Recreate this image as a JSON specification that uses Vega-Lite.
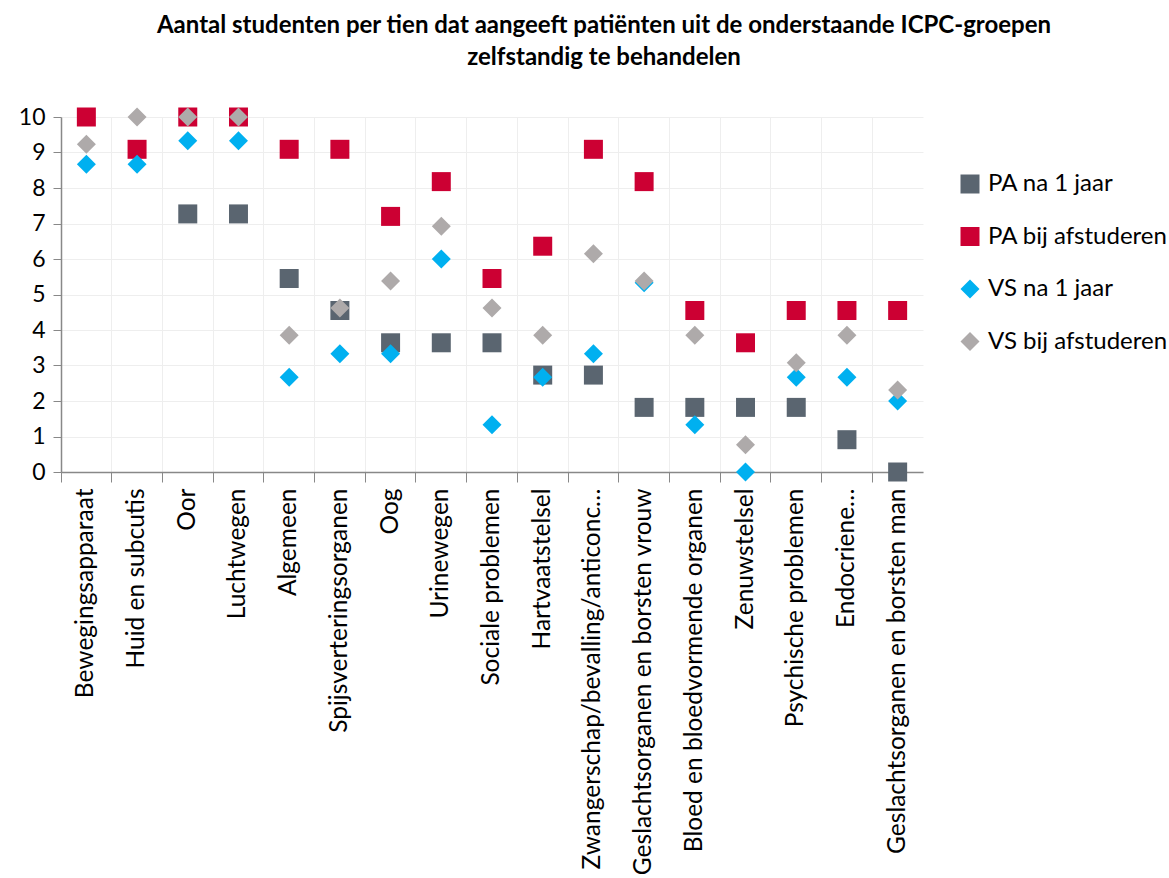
{
  "$schema": "https://vega.github.io/schema/vega-lite/v6.json",
  "autosize": "none",
  "width": 862,
  "height": 355,
  "padding": {"left": 61, "top": 117, "right": 246, "bottom": 406},
  "background": "white",
  "config": {"font": "Lato", "view": {"stroke": null}},
  "title": {
    "text": ["Aantal studenten per tien dat aangeeft patiënten uit de onderstaande ICPC-groepen", "zelfstandig te behandelen"],
    "fontSize": 24,
    "fontWeight": "bold",
    "color": "#000000",
    "anchor": "middle",
    "frame": "group",
    "dx": 112,
    "lineHeight": 32,
    "offset": 36
  },
  "data": {
    "values": [
      {"cat": "Oor", "serie": "PA na 1 jaar", "v": 7.27},
      {"cat": "Luchtwegen", "serie": "PA na 1 jaar", "v": 7.27},
      {"cat": "Algemeen", "serie": "PA na 1 jaar", "v": 5.45},
      {"cat": "Spijsverteringsorganen", "serie": "PA na 1 jaar", "v": 4.55},
      {"cat": "Oog", "serie": "PA na 1 jaar", "v": 3.64},
      {"cat": "Urinewegen", "serie": "PA na 1 jaar", "v": 3.64},
      {"cat": "Sociale problemen", "serie": "PA na 1 jaar", "v": 3.64},
      {"cat": "Hartvaatstelsel", "serie": "PA na 1 jaar", "v": 2.73},
      {"cat": "Zwangerschap/bevalling/anticonc…", "serie": "PA na 1 jaar", "v": 2.73},
      {"cat": "Geslachtsorganen en borsten vrouw", "serie": "PA na 1 jaar", "v": 1.82},
      {"cat": "Bloed en bloedvormende organen", "serie": "PA na 1 jaar", "v": 1.82},
      {"cat": "Zenuwstelsel", "serie": "PA na 1 jaar", "v": 1.82},
      {"cat": "Psychische problemen", "serie": "PA na 1 jaar", "v": 1.82},
      {"cat": "Endocriene…", "serie": "PA na 1 jaar", "v": 0.91},
      {"cat": "Geslachtsorganen en borsten man", "serie": "PA na 1 jaar", "v": 0},

      {"cat": "Bewegingsapparaat", "serie": "PA bij afstuderen", "v": 10},
      {"cat": "Huid en subcutis", "serie": "PA bij afstuderen", "v": 9.09},
      {"cat": "Oor", "serie": "PA bij afstuderen", "v": 10},
      {"cat": "Luchtwegen", "serie": "PA bij afstuderen", "v": 10},
      {"cat": "Algemeen", "serie": "PA bij afstuderen", "v": 9.09},
      {"cat": "Spijsverteringsorganen", "serie": "PA bij afstuderen", "v": 9.09},
      {"cat": "Oog", "serie": "PA bij afstuderen", "v": 7.2},
      {"cat": "Urinewegen", "serie": "PA bij afstuderen", "v": 8.18},
      {"cat": "Sociale problemen", "serie": "PA bij afstuderen", "v": 5.45},
      {"cat": "Hartvaatstelsel", "serie": "PA bij afstuderen", "v": 6.36},
      {"cat": "Zwangerschap/bevalling/anticonc…", "serie": "PA bij afstuderen", "v": 9.09},
      {"cat": "Geslachtsorganen en borsten vrouw", "serie": "PA bij afstuderen", "v": 8.18},
      {"cat": "Bloed en bloedvormende organen", "serie": "PA bij afstuderen", "v": 4.55},
      {"cat": "Zenuwstelsel", "serie": "PA bij afstuderen", "v": 3.64},
      {"cat": "Psychische problemen", "serie": "PA bij afstuderen", "v": 4.55},
      {"cat": "Endocriene…", "serie": "PA bij afstuderen", "v": 4.55},
      {"cat": "Geslachtsorganen en borsten man", "serie": "PA bij afstuderen", "v": 4.55},

      {"cat": "Bewegingsapparaat", "serie": "VS na 1 jaar", "v": 8.67},
      {"cat": "Huid en subcutis", "serie": "VS na 1 jaar", "v": 8.67},
      {"cat": "Oor", "serie": "VS na 1 jaar", "v": 9.33},
      {"cat": "Luchtwegen", "serie": "VS na 1 jaar", "v": 9.33},
      {"cat": "Algemeen", "serie": "VS na 1 jaar", "v": 2.67},
      {"cat": "Spijsverteringsorganen", "serie": "VS na 1 jaar", "v": 3.33},
      {"cat": "Oog", "serie": "VS na 1 jaar", "v": 3.33},
      {"cat": "Urinewegen", "serie": "VS na 1 jaar", "v": 6},
      {"cat": "Sociale problemen", "serie": "VS na 1 jaar", "v": 1.33},
      {"cat": "Hartvaatstelsel", "serie": "VS na 1 jaar", "v": 2.67},
      {"cat": "Zwangerschap/bevalling/anticonc…", "serie": "VS na 1 jaar", "v": 3.33},
      {"cat": "Geslachtsorganen en borsten vrouw", "serie": "VS na 1 jaar", "v": 5.33},
      {"cat": "Bloed en bloedvormende organen", "serie": "VS na 1 jaar", "v": 1.33},
      {"cat": "Zenuwstelsel", "serie": "VS na 1 jaar", "v": 0},
      {"cat": "Psychische problemen", "serie": "VS na 1 jaar", "v": 2.67},
      {"cat": "Endocriene…", "serie": "VS na 1 jaar", "v": 2.67},
      {"cat": "Geslachtsorganen en borsten man", "serie": "VS na 1 jaar", "v": 2},

      {"cat": "Bewegingsapparaat", "serie": "VS bij afstuderen", "v": 9.23},
      {"cat": "Huid en subcutis", "serie": "VS bij afstuderen", "v": 10},
      {"cat": "Oor", "serie": "VS bij afstuderen", "v": 10},
      {"cat": "Luchtwegen", "serie": "VS bij afstuderen", "v": 10},
      {"cat": "Algemeen", "serie": "VS bij afstuderen", "v": 3.85},
      {"cat": "Spijsverteringsorganen", "serie": "VS bij afstuderen", "v": 4.62},
      {"cat": "Oog", "serie": "VS bij afstuderen", "v": 5.38},
      {"cat": "Urinewegen", "serie": "VS bij afstuderen", "v": 6.92},
      {"cat": "Sociale problemen", "serie": "VS bij afstuderen", "v": 4.62},
      {"cat": "Hartvaatstelsel", "serie": "VS bij afstuderen", "v": 3.85},
      {"cat": "Zwangerschap/bevalling/anticonc…", "serie": "VS bij afstuderen", "v": 6.15},
      {"cat": "Geslachtsorganen en borsten vrouw", "serie": "VS bij afstuderen", "v": 5.38},
      {"cat": "Bloed en bloedvormende organen", "serie": "VS bij afstuderen", "v": 3.85},
      {"cat": "Zenuwstelsel", "serie": "VS bij afstuderen", "v": 0.77},
      {"cat": "Psychische problemen", "serie": "VS bij afstuderen", "v": 3.08},
      {"cat": "Endocriene…", "serie": "VS bij afstuderen", "v": 3.85},
      {"cat": "Geslachtsorganen en borsten man", "serie": "VS bij afstuderen", "v": 2.31}
    ]
  },
  "mark": {"type": "point", "filled": true, "opacity": 1},
  "encoding": {
    "x": {
      "field": "cat",
      "type": "nominal",
      "sort": ["Bewegingsapparaat", "Huid en subcutis", "Oor", "Luchtwegen", "Algemeen", "Spijsverteringsorganen", "Oog", "Urinewegen", "Sociale problemen", "Hartvaatstelsel", "Zwangerschap/bevalling/anticonc…", "Geslachtsorganen en borsten vrouw", "Bloed en bloedvormende organen", "Zenuwstelsel", "Psychische problemen", "Endocriene…", "Geslachtsorganen en borsten man"],
      "scale": {"type": "band", "paddingInner": 0, "paddingOuter": 0},
      "axis": {
        "title": null,
        "labelAngle": -90,
        "labelFontSize": 24.5,
        "labelColor": "#000000",
        "labelLimit": 0,
        "labelPadding": 6,
        "bandPosition": 0,
        "tickSize": 10,
        "tickColor": "#888888",
        "domainColor": "#888888",
        "domainWidth": 1.5,
        "grid": true,
        "gridColor": "#eeeeee",
        "labelFont": "Lato"
      }
    },
    "y": {
      "field": "v",
      "type": "quantitative",
      "scale": {"domain": [0, 10], "nice": false},
      "axis": {
        "title": null,
        "values": [0, 1, 2, 3, 4, 5, 6, 7, 8, 9, 10],
        "labelFontSize": 23,
        "labelColor": "#000000",
        "labelPadding": 8,
        "tickSize": 8,
        "tickColor": "#888888",
        "domainColor": "#888888",
        "domainWidth": 1.5,
        "gridColor": "#eeeeee",
        "labelFont": "Lato"
      }
    },
    "color": {
      "field": "serie",
      "type": "nominal",
      "sort": ["PA na 1 jaar", "PA bij afstuderen", "VS na 1 jaar", "VS bij afstuderen"],
      "scale": {"domain": ["PA na 1 jaar", "PA bij afstuderen", "VS na 1 jaar", "VS bij afstuderen"], "range": ["#5A6570", "#CC0033", "#00B0F0", "#AEAAAA"]},
      "legend": {
        "title": null,
        "orient": "none",
        "legendX": 897,
        "legendY": 55,
        "labelFontSize": 24,
        "labelLimit": 0,
        "labelColor": "#000000",
        "labelFont": "Lato",
        "rowPadding": 28.5,
        "symbolSize": 256,
        "labelOffset": 6,
        "symbolStrokeWidth": 0
      }
    },
    "shape": {
      "field": "serie",
      "type": "nominal",
      "scale": {"domain": ["PA na 1 jaar", "PA bij afstuderen", "VS na 1 jaar", "VS bij afstuderen"], "range": ["square", "square", "diamond", "diamond"]},
      "legend": null
    },
    "size": {
      "field": "serie",
      "type": "nominal",
      "scale": {"domain": ["PA na 1 jaar", "PA bij afstuderen", "VS na 1 jaar", "VS bij afstuderen"], "range": [361, 361, 324, 324]},
      "legend": null
    }
  }
}
